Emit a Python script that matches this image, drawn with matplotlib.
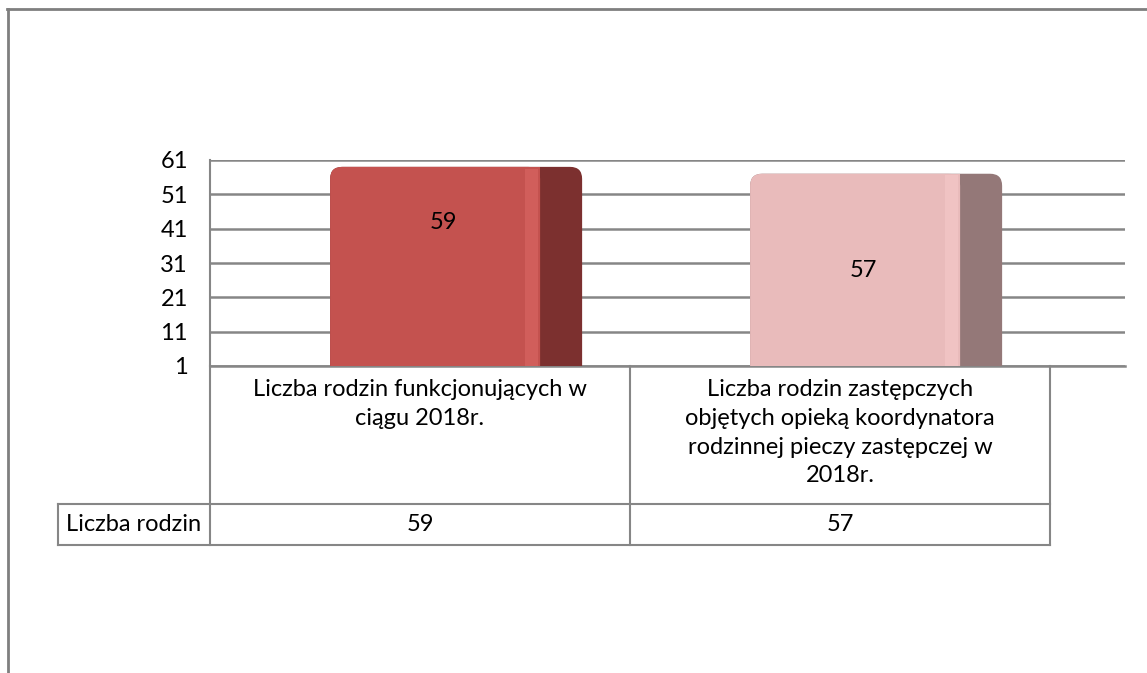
import numpy as np
import matplotlib.pyplot as plt
from matplotlib.patches import FancyBboxPatch
from matplotlib.lines import Line2D

plt.rcParams['font.family'] = ['Lato', 'DejaVu Sans']

categories = ["Liczba rodzin funkcjonujących w\nciągu 2018r.",
              "Liczba rodzin zastępczych\nobjętych opieką koordynatora\nrodzinnej pieczy zastępczej w\n2018r."]
values = [59, 57]
series_name = "Liczba rodzin"
yticks = [1, 11, 21, 31, 41, 51, 61]

front_colors = ["#C4524F", "#E9BBBB"]
side_colors = ["#7C302F", "#947878"]
light_colors = ["#DA6764", "#F6CACA"]

W, H = 1147, 673
fs = 17
fig = plt.figure(figsize=(W / 100, H / 100), dpi=100)
ax = fig.add_axes([210 / W, 1 - 366 / H, (1125 - 210) / W, (366 - 160) / H])
ax.set_xlim(0, 915 / 420)
ax.set_ylim(yticks[0], yticks[-1])
ax.set_yticks(yticks)
ax.set_xticks([])
for s in ["top", "right", "bottom"]:
    ax.spines[s].set_visible(False)
ax.spines["left"].set_color("#868686")
ax.spines["left"].set_linewidth(1.5)
ax.tick_params(axis="y", length=0, labelsize=fs, pad=16)
ax.yaxis.grid(True, color="#868686", linewidth=1.8)
ax.set_axisbelow(True)

# bar geometry
front_w = 0.5
side_w = 0.1
offset = 0.286
px_x = 420.0
px_y = 206.0 / 60
r = 12 / px_x
aspect = px_x / px_y
label_y = [42.7, 28.7]

for i, v in enumerate(values):
    x0 = i + offset
    # whole block in side colour (front + depth)
    full = FancyBboxPatch((x0, -20), front_w + side_w, v + 20,
                          boxstyle=f"round,pad=0,rounding_size={r}",
                          mutation_aspect=aspect, fc=side_colors[i], ec="none", zorder=3)
    ax.add_patch(full)
    front = FancyBboxPatch((x0, -20), front_w, v + 20,
                           boxstyle=f"round,pad=0,rounding_size={r}",
                           mutation_aspect=aspect, fc=front_colors[i], ec="none", zorder=4)
    ax.add_patch(front)
    ax.bar(x0 + front_w * 0.75, v - yticks[0], width=front_w * 0.5, bottom=yticks[0],
           align="center", color=front_colors[i], zorder=4)
    # light stripe near the front edge
    ax.bar(x0 + front_w - 0.02, v - yticks[0] - 0.5, width=0.03, bottom=yticks[0],
           color=light_colors[i], alpha=0.6, zorder=5)
    ax.text(x0 + front_w / 2 + 0.02, label_y[i], str(v), ha="center", va="center",
            fontsize=fs, color="black", zorder=6)

# data table below the chart
lc = "#868686"
ya, yb = (366 - 504) / 206, (366 - 545) / 206
xl = (58 - 210) / px_x
n = len(values)
tr = ax.get_xaxis_transform()
for xb in range(n + 1):
    ax.add_line(Line2D([xb, xb], [0, yb], transform=tr, color=lc, lw=1.5, clip_on=False))
ax.add_line(Line2D([xl, xl], [ya, yb], transform=tr, color=lc, lw=1.5, clip_on=False))
for yy in (ya, yb):
    ax.add_line(Line2D([xl, n], [yy, yy], transform=tr, color=lc, lw=1.5, clip_on=False))
ax.add_line(Line2D([0, 915 / 420], [0, 0], transform=tr, color=lc, lw=1.8, clip_on=False))

for i, (c, v) in enumerate(zip(categories, values)):
    ax.text(i + 0.5, -0.065, c, transform=tr, ha="center", va="top", fontsize=fs,
            linespacing=1.45)
    ax.text(i + 0.5, (ya + yb) / 2, str(v), transform=tr, ha="center", va="center",
            fontsize=fs)
ax.text(xl / 2, (ya + yb) / 2, series_name, transform=tr, ha="center", va="center",
        fontsize=fs)

# outer frame (top and left edges)
fig.add_artist(Line2D([7 / W, 1], [1 - 9 / H, 1 - 9 / H], color="#7F7F7F", lw=2))
fig.add_artist(Line2D([8 / W, 8 / W], [0, 1 - 9 / H], color="#7F7F7F", lw=2))

fig.savefig("out.png", dpi=100, facecolor="white")
